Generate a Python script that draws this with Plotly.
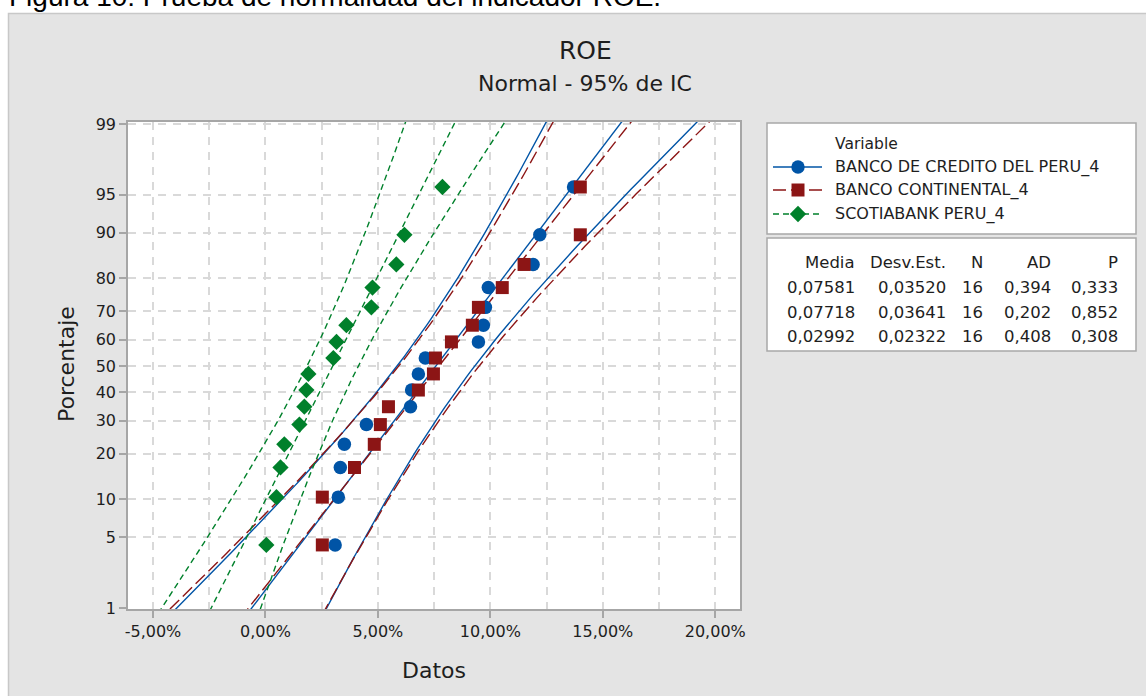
import plotly.graph_objects as go
from statistics import NormalDist
import math

# ---------------- data ----------------
series_names = ["BANCO DE CREDITO DEL PERU_4", "BANCO CONTINENTAL_4", "SCOTIABANK PERU_4"]
# plotting positions (percent) for the 16 ordered observations
plot_pct = [4.27, 10.37, 16.46, 22.56, 28.66, 34.76, 40.85, 46.95,
            53.05, 59.15, 65.24, 71.34, 77.44, 83.54, 89.63, 95.73]
# observed ROE values (percent), ordered
bcp_vals = [3.10, 3.24, 3.33, 3.51, 4.49, 6.45, 6.50, 6.80,
            7.11, 9.47, 9.69, 9.78, 9.91, 11.90, 12.20, 13.70]
bbva_vals = [2.53, 2.53, 3.96, 4.84, 5.11, 5.47, 6.80, 7.47,
             7.56, 8.27, 9.20, 9.47, 10.53, 11.50, 14.00, 14.00]
scotia_vals = [0.04, 0.49, 0.67, 0.84, 1.51, 1.73, 1.82, 1.91,
               3.02, 3.16, 3.60, 4.71, 4.76, 5.82, 6.18, 7.87]
# summary table
media = [0.07581, 0.07718, 0.02992]
desv = [0.03520, 0.03641, 0.02322]
n_obs = [16, 16, 16]
ad = [0.394, 0.202, 0.408]
pval = [0.333, 0.852, 0.308]
table_header = ["Media", "Desv.Est.", "N", "AD", "P"]

y_tick_pct = [1, 5, 10, 20, 30, 40, 50, 60, 70, 80, 90, 95, 99]
x_tick_vals = [-5, 0, 5, 10, 15, 20]
x_tick_text = ["-5,00%", "0,00%", "5,00%", "10,00%", "15,00%", "20,00%"]
x_minor_vals = [-2.5, 2.5, 7.5, 12.5, 17.5]

colors = ["#0054A6", "#8C1515", "#00802B"]
symbols = ["circle", "square", "diamond"]
msizes = [13.5, 13, 12.5]
dashes = ["solid", "13px,5px", "6px,4px"]

# ---------------- helpers ----------------
nd = NormalDist()
W_FIG, H_FIG = 1146, 696
L, R, T, B = 128, 740, 122, 609
PW, PH = R - L, B - T


def px(x):
    return (x - L) / PW


def py(y):
    return (B - y) / PH


FONT = "DejaVu Sans"
TXT = "#1E1E1E"

fig = go.Figure()

# fitted lines + 95% confidence bands
zgrid = [-2.7 + 0.05 * k for k in range(109)]
for i in range(3):
    m = media[i] * 100
    s = desv[i] * 100
    n = n_obs[i]
    ctr = [m + z * s for z in zgrid]
    half = [1.959964 * s * math.sqrt(1 / n + z * z / (2 * n)) for z in zgrid]
    lo = [c - h for c, h in zip(ctr, half)]
    hi = [c + h for c, h in zip(ctr, half)]
    for xs in (ctr, lo, hi):
        fig.add_trace(go.Scatter(
            x=xs, y=zgrid, mode="lines",
            line=dict(color=colors[i], width=1.4, dash=dashes[i]),
            showlegend=False, hoverinfo="skip"))

# points
zpts = [nd.inv_cdf(p / 100) for p in plot_pct]
for i, vals in enumerate([bcp_vals, bbva_vals, scotia_vals]):
    fig.add_trace(go.Scatter(
        x=vals, y=zpts, mode="markers", name=series_names[i],
        marker=dict(color=colors[i], symbol=symbols[i], size=msizes[i],
                    line=dict(width=0)),
        showlegend=False))

# ---------------- legend (drawn) ----------------
leg_y = [167, 190, 214]
shapes = []
# white strips outside the grey panel
shapes.append(dict(type="rect", xref="paper", yref="paper",
                   x0=px(-20), x1=px(W_FIG + 20), y0=py(13), y1=py(-20),
                   fillcolor="white", line=dict(width=0), layer="below"))
shapes.append(dict(type="rect", xref="paper", yref="paper",
                   x0=px(-20), x1=px(8), y0=py(H_FIG + 20), y1=py(-20),
                   fillcolor="white", line=dict(width=0), layer="below"))
shapes.append(dict(type="rect", xref="paper", yref="paper",
                   x0=px(8.5), x1=px(W_FIG + 10), y0=py(H_FIG + 10), y1=py(13.5),
                   fillcolor="rgba(0,0,0,0)", line=dict(color="#C8C8C8", width=1.5),
                   layer="below"))
# legend boxes
for (y0, y1) in [(123, 234), (238, 351)]:
    shapes.append(dict(type="rect", xref="paper", yref="paper",
                       x0=px(767), x1=px(1136), y0=py(y1), y1=py(y0),
                       fillcolor="white", line=dict(color="#A8A8A8", width=1.5),
                       layer="below"))
for i in range(3):
    shapes.append(dict(type="line", xref="paper", yref="paper",
                       x0=px(773), x1=px(822), y0=py(leg_y[i]), y1=py(leg_y[i]),
                       line=dict(color=colors[i], width=1.5, dash=dashes[i])))

# legend symbols (drawn as shapes at pixel positions)
mx = 798
yb = leg_y[0]
shapes.append(dict(type="circle", xref="paper", yref="paper",
                   x0=px(mx - 6.7), x1=px(mx + 6.7), y0=py(yb + 6.7), y1=py(yb - 6.7),
                   fillcolor=colors[0], line=dict(width=0)))
yr = leg_y[1]
shapes.append(dict(type="rect", xref="paper", yref="paper",
                   x0=px(mx - 6.5), x1=px(mx + 6.5), y0=py(yr + 6.5), y1=py(yr - 6.5),
                   fillcolor=colors[1], line=dict(width=0)))
yg = leg_y[2]
d = 8.2
shapes.append(dict(type="path", xref="paper", yref="paper",
                   path=(f"M{px(mx)},{py(yg - d)} L{px(mx + d)},{py(yg)} "
                         f"L{px(mx)},{py(yg + d)} L{px(mx - d)},{py(yg)} Z"),
                   fillcolor=colors[2], line=dict(width=0)))

annotations = []


def ann(text, x, y, size, xanchor="center", yanchor="middle", angle=0,
        family=FONT, color=TXT):
    annotations.append(dict(text=text, x=px(x), y=py(y), xref="paper", yref="paper",
                            showarrow=False, xanchor=xanchor, yanchor=yanchor,
                            textangle=angle,
                            font=dict(family=family, size=size, color=color)))


ann("Variable", 833, 144, 15.5, xanchor="left")
for i in range(3):
    ann(series_names[i], 833, leg_y[i], 16, xanchor="left")

col_right = [857, 948, 985, 1053, 1120]
for j, h in enumerate(table_header):
    ann(h, col_right[j], 262, 16.5, xanchor="right")
row_y = [287, 312, 336]
for i in range(3):
    cells = [f"{media[i]:.5f}".replace(".", ","), f"{desv[i]:.5f}".replace(".", ","),
             str(n_obs[i]), f"{ad[i]:.3f}".replace(".", ","), f"{pval[i]:.3f}".replace(".", ",")]
    for j, c in enumerate(cells):
        ann(c, col_right[j], row_y[i], 16.5, xanchor="right")

# titles
ann("ROE", 585, 50, 25)
ann("Normal - 95% de IC", 585, 83, 22)
ann("Datos", 434, 670, 22)
ann("Porcentaje", 66, 364, 22, angle=-90)
# caption (partially cut at top of page)
ann("Figura 10: Prueba de normalidad del indicador ROE.", 7, -4, 28,
    xanchor="left", family="Liberation Sans", color="#000000")

ytick_vals = [nd.inv_cdf(p / 100) for p in y_tick_pct]

fig.update_layout(
    width=W_FIG, height=H_FIG,
    margin=dict(l=L, r=W_FIG - R, t=T, b=H_FIG - B, pad=0),
    paper_bgcolor="#E4E4E4", plot_bgcolor="white",
    showlegend=False,
    shapes=shapes, annotations=annotations,
    xaxis=dict(range=[-6.11, 21.1], tickvals=x_tick_vals, ticktext=x_tick_text,
               showgrid=True, gridcolor="#D9D9D9", gridwidth=1.5, griddash="8px,7px",
               minor=dict(tickvals=x_minor_vals, showgrid=True, gridcolor="#D9D9D9",
                          gridwidth=1.5, griddash="8px,7px", ticks=""),
               zeroline=False, showline=True, mirror=True, linecolor="#A6A6A6",
               linewidth=1.5, ticks="outside", ticklen=7, tickcolor="#A6A6A6",
               tickwidth=1.5,
               tickfont=dict(family=FONT, size=16, color=TXT)),
    yaxis=dict(range=[-2.336, 2.345], tickvals=ytick_vals,
               ticktext=[str(p) for p in y_tick_pct],
               showgrid=True, gridcolor="#D9D9D9", gridwidth=1.5, griddash="8px,7px",
               zeroline=False, showline=True, mirror=True, linecolor="#A6A6A6",
               linewidth=1.5, ticks="outside", ticklen=7, tickcolor="#A6A6A6",
               tickwidth=1.5,
               tickfont=dict(family=FONT, size=16, color=TXT)),
)

fig.write_html("out.html", config={"displayModeBar": False},
               post_script="document.body.style.margin='0';")
